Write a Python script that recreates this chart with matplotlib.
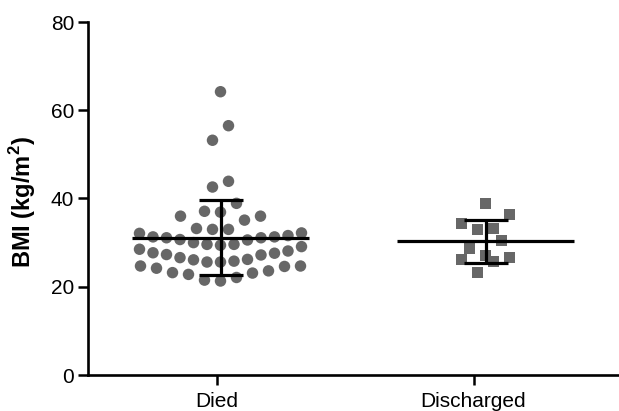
import numpy as np
import matplotlib
matplotlib.use('Agg')
import matplotlib.pyplot as plt

plt.rcParams['font.family'] = ['Liberation Sans', 'DejaVu Sans']
plt.rcParams['mathtext.fontset'] = 'custom'
plt.rcParams['mathtext.bf'] = 'Liberation Sans:bold'
plt.rcParams['mathtext.rm'] = 'Liberation Sans'

groups = ['Died', 'Discharged']
died = [64.2, 56.5, 53.2, 43.9, 42.6,
        38.9, 36.0, 35.1, 36.9, 37.1, 36.0,
        33.0, 33.0, 33.2,
        32.2, 31.6, 31.3, 31.1, 30.6, 32.1, 31.3, 31.1, 30.7,
        29.6, 29.6, 29.4, 30.0,
        28.5, 27.7, 27.3, 26.6, 26.1, 25.6, 25.6, 25.8, 26.2, 27.2, 27.6, 28.1, 29.1,
        24.7, 24.6, 23.6, 23.1, 22.1, 21.3, 21.5, 22.8, 23.2, 24.2, 24.7]
discharged = [38.9, 36.4, 34.3, 33.0, 33.2, 30.4, 28.6, 26.2, 27.1, 25.8, 26.6, 23.2]
yticks = [0, 20, 40, 60, 80]

W, H = 619, 411
fig = plt.figure(figsize=(W / 100, H / 100), dpi=100)
ax = fig.add_axes([88 / W, 36 / H, 530 / W, 353 / H])
ax.set_xlim(0.5, 2.5)
ax.set_ylim(0, 80)

ppx = 530 / 2.0   # pixels per x unit


def rows_layout(values, binw=3.6, gap=16.0, maxhalf=81.0):
    # prism-like scatter: bin values into rows, smallest in the middle,
    # then alternate left / right outwards
    vals = np.sort(np.asarray(values))
    xs = []
    ys = []
    i = 0
    while i < len(vals):
        j = i
        while j < len(vals) and vals[j] - vals[i] < binw:
            j += 1
        row = vals[i:j]
        n = len(row)
        step = gap if n < 2 else min(gap, 2 * maxhalf / (n - 1))
        for k, v in enumerate(row):
            if n % 2:
                slot = (k + 1) // 2 * (-1 if k % 2 else 1)
            else:
                slot = (k // 2 + 0.5) * (-1 if k % 2 == 0 else 1)
            xs.append(slot * step / ppx)
            ys.append(v)
        i = j
    return np.array(xs), np.array(ys)


grey = '#676767'
for pos, vals, mk in [(1, died, 'o'), (2, discharged, 's')]:
    dx, ys = rows_layout(vals)
    ax.scatter(pos + dx, ys, s=68 if mk == 'o' else 62, marker=mk, color=grey,
               edgecolors='none', zorder=2)
    vals = np.array(vals)
    m = vals.mean()
    sd = vals.std(ddof=1)
    ax.hlines(m, pos - 0.333, pos + 0.333, color='black', lw=2.3, zorder=3)
    ax.errorbar(pos, m, yerr=sd, fmt='none', ecolor='black', elinewidth=2.3,
                capsize=16, capthick=2.3, zorder=3)

# the category ticks sit a little left of the data columns in the original
ax.set_xticks([1 - 4 / ppx, 2 - 12 / ppx])
ax.set_xticklabels(groups, fontsize=15)
ax.set_yticks(yticks)
ax.set_yticklabels([str(t) for t in yticks], fontsize=15)
ax.tick_params(axis='both', length=7, width=1.8, color='black')
ax.tick_params(axis='x', pad=5)
ax.tick_params(axis='y', pad=3)
for side in ['top', 'right']:
    ax.spines[side].set_visible(False)
for side in ['left', 'bottom']:
    ax.spines[side].set_linewidth(1.9)

ax.set_ylabel(r'BMI (kg/m$^\mathbf{2}$)', fontsize=17, fontweight='bold')
ax.yaxis.set_label_coords(-0.095, 0.49)

fig.savefig('out.png', dpi=100)
